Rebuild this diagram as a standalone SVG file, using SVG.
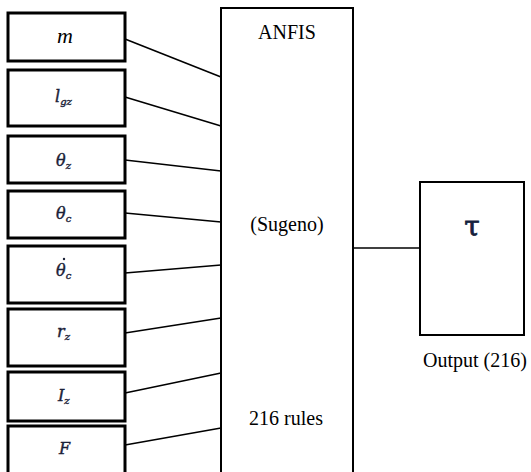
<svg xmlns="http://www.w3.org/2000/svg" width="531" height="472" viewBox="0 0 531 472">
  <style>
    .inbox { fill: #fff; stroke: #000; stroke-width: 3; }
    .box { fill: #fff; stroke: #000; stroke-width: 2; }
    .wire { stroke: #000; stroke-width: 1.6; fill: none; }
    .txt { font-family: "Liberation Serif", "Times New Roman", serif; font-size: 20px; fill: #000; text-anchor: middle; }
    .sym { font-family: "DejaVu Serif", "Liberation Serif", serif; font-style: italic; font-size: 16px; fill: #1b2238; stroke: #1b2238; stroke-width: 0.4; }
    .sub { font-size: 10px; }
  </style>

  <rect width="531" height="472" fill="#fff"/>

  <!-- connectors -->
  <g id="connectors">
    <line class="wire" x1="125" y1="39" x2="221" y2="77"/>
    <line class="wire" x1="125" y1="97" x2="221" y2="126"/>
    <line class="wire" x1="125" y1="160" x2="221" y2="171"/>
    <line class="wire" x1="125" y1="213" x2="221" y2="222"/>
    <line class="wire" x1="125" y1="273" x2="221" y2="265"/>
    <line class="wire" x1="125" y1="333" x2="221" y2="318"/>
    <line class="wire" x1="125" y1="393" x2="221" y2="373"/>
    <line class="wire" x1="125" y1="445" x2="221" y2="428"/>
    <line class="wire" x1="353" y1="248" x2="420" y2="248"/>
  </g>

  <!-- input variables -->
  <g id="in-m">
    <rect class="inbox" x="8" y="13" width="117" height="48"/>
    <text x="65" y="43" font-family="'Liberation Serif', serif" font-style="italic" font-size="22" fill="#000" text-anchor="middle">m</text>
  </g>
  <g id="in-lgz">
    <rect class="inbox" x="8" y="70" width="117" height="56"/>
    <text class="sym" x="55" y="102">l<tspan class="sub" dy="3">gz</tspan></text>
  </g>
  <g id="in-theta-z">
    <rect class="inbox" x="8" y="136" width="117" height="47"/>
    <text class="sym" x="56" y="166">θ<tspan class="sub" dy="3">z</tspan></text>
  </g>
  <g id="in-theta-c">
    <rect class="inbox" x="8" y="191" width="117" height="47"/>
    <text class="sym" x="56" y="219">θ<tspan class="sub" dy="3">c</tspan></text>
  </g>
  <g id="in-theta-c-dot">
    <rect class="inbox" x="8" y="246" width="117" height="57"/>
    <text class="sym" x="56" y="276">θ<tspan class="sub" dy="3">c</tspan></text>
    <circle cx="64" cy="259" r="1.2" fill="#1b2238"/>
  </g>
  <g id="in-r-z">
    <rect class="inbox" x="8" y="309" width="117" height="57"/>
    <text class="sym" x="57" y="337">r<tspan class="sub" dy="3">z</tspan></text>
  </g>
  <g id="in-I-z">
    <rect class="inbox" x="8" y="372" width="117" height="49"/>
    <text class="sym" x="58" y="401">I<tspan class="sub" dy="3">z</tspan></text>
  </g>
  <g id="in-F">
    <rect class="inbox" x="8" y="426" width="117" height="60"/>
    <text class="sym" x="59" y="454">F</text>
  </g>

  <!-- fuzzy inference block -->
  <g id="anfis">
    <rect class="box" x="221" y="8" width="132" height="480"/>
    <text class="txt" x="287" y="39">ANFIS</text>
    <text class="txt" x="287" y="231">(Sugeno)</text>
    <text class="txt" x="286" y="425">216 rules</text>
  </g>

  <!-- output -->
  <g id="output">
    <rect class="box" x="420" y="182" width="104" height="153" stroke-width="2.5"/>
    <text x="472" y="236" font-family="'DejaVu Serif', 'Liberation Serif', serif" font-size="28" fill="#14213d" stroke="#14213d" stroke-width="0.8" text-anchor="middle">τ</text>
    <text class="txt" x="475" y="367">Output (216)</text>
  </g>
</svg>
